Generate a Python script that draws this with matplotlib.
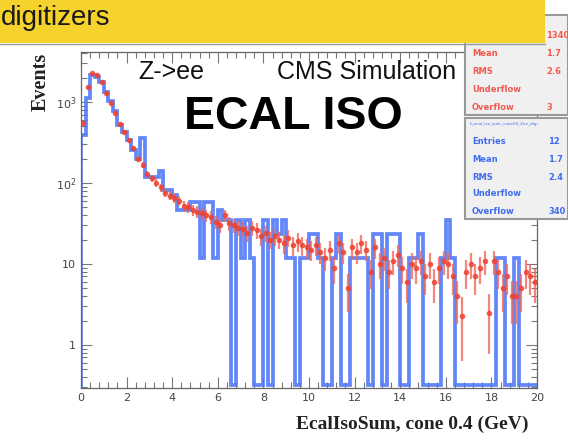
import numpy as np
import matplotlib
matplotlib.use("Agg")
import matplotlib.pyplot as plt
from matplotlib.patches import Rectangle
from matplotlib.ticker import FixedLocator, LogLocator, NullFormatter

# binning: 100 bins of 0.2 GeV from 0 to 20
edges = np.linspace(0, 20, 101)
centers = 0.5 * (edges[:-1] + edges[1:])

# blue histogram: raw counts, each event carries the same weight
blue_weight = 11.7
blue_counts = [33, 96, 184, 175, 150, 115, 88, 66, 45, 36,
               29, 22, 17, 31, 10, 10, 10, 12, 7, 7,
               6, 4, 4, 4, 5, 5, 1, 5, 5, 1,
               4, 3, 3, 0, 3, 1, 3, 1, 0, 0,
               3, 0, 3, 2, 3, 1, 1, 0, 1, 1,
               2, 2, 1, 0, 0, 1, 2, 0, 0, 1,
               1, 1, 1, 0, 2, 2, 0, 2, 2, 2,
               0, 0, 1, 1, 2, 0, 0, 0, 0, 1,
               3, 1, 0, 0, 0, 0, 0, 0, 0, 0,
               0, 1, 1, 0, 0, 1, 0, 0, 0, 0]

# red points (higher statistics sample)
red_weight = 1.2
red_values = [550, 1540, 2250, 2150, 1780, 1300, 960, 730, 530, 420,
              340, 270, 200, 165, 130, 115, 100, 88, 76, 70,
              66, 60, 52, 50, 46, 44, 42, 40, 38, 33,
              30, 40, 32, 30, 28, 27, 24, 28, 26, 22,
              24, 20, 22, 20, 18, 21, 17, 19, 17, 16,
              15, 17, 14, 12, 15, 9, 18, 14, 5, 16,
              14, 18, 15, 8, 16, 10, 12, 8, 11, 13,
              9, 6, 10, 9, 11, 7, 10, 6, 9, 11,
              10, 7, 4, 2.3, 8, 10, 7, 9, 11, 2.5,
              11, 8, 5, 7, 4, 4, 5, 8, 7, 6]

W, H = 568, 441
fig = plt.figure(figsize=(W / 100, H / 100), dpi=100)


def fx(px):
    return px / W


def fy(py):
    return 1 - py / H


ax = fig.add_axes([fx(81), fy(388), fx(537) - fx(81), fy(52) - fy(388)])

blue = np.array(blue_counts, dtype=float) * blue_weight
blue_draw = np.where(blue > 0, blue, 0.32)
ax.stairs(blue_draw, edges, color='#4d76f8', lw=2.7, alpha=0.88, zorder=2)

red = np.array(red_values, dtype=float)
err = np.sqrt(red * red_weight)
err_lo = np.minimum(err, red * 0.97)
ax.errorbar(centers, red, yerr=[err_lo, err], fmt='o', ms=3.0, color='#ee4030',
            mec='#ee4030', ecolor='#f0665a', elinewidth=1.6, capsize=0,
            alpha=0.78, zorder=3)

ax.set_yscale('log')
ax.set_xlim(0, 20)
ax.set_ylim(0.294, 4140)

ax.xaxis.set_major_locator(FixedLocator(np.arange(0, 21, 2)))
ax.xaxis.set_minor_locator(FixedLocator(np.arange(0, 20.01, 0.4)))
ax.yaxis.set_major_locator(FixedLocator([1, 10, 100, 1000]))
ax.yaxis.set_minor_locator(LogLocator(base=10, subs=np.arange(2, 10), numticks=20))
ax.yaxis.set_minor_formatter(NullFormatter())
ax.set_yticklabels(['1', '10', r'$10^{2}$', r'$10^{3}$'])
ax.tick_params(which='both', direction='in', top=True, right=True, color='#777777',
               labelcolor='#444444', labelsize=8, width=0.8)
ax.tick_params(which='major', length=8)
ax.tick_params(which='minor', length=4)
for sp in ax.spines.values():
    sp.set_color('#666666')
    sp.set_linewidth(0.9)

fig.text(fx(528), fy(424), 'EcalIsoSum, cone 0.4 (GeV)', family='Liberation Serif',
         weight='bold', fontsize=14, color='#222222', ha='right', va='center')
fig.text(fx(41), fy(53), 'Events', family='Liberation Serif', weight='bold',
         fontsize=14.5, color='#222222', rotation=90, ha='center', va='top')

# titles inside the plot
fig.text(fx(138), fy(72), 'Z->ee', family='Liberation Sans', fontsize=18,
         color='#111111', ha='left', va='center')
fig.text(fx(277), fy(72), 'CMS Simulation', family='Liberation Sans', fontsize=18,
         color='#111111', ha='left', va='center')
fig.text(fx(293), fy(117), 'ECAL ISO', family='Liberation Sans', weight='bold',
         fontsize=33.5, color='#000000', ha='center', va='center')

# stat boxes
red_box = Rectangle((fx(465), fy(115)), fx(568) - fx(465), fy(15) - fy(115),
                    transform=fig.transFigure, facecolor='#f0f0f0', edgecolor='#999999',
                    lw=1.5, zorder=5)
blue_box = Rectangle((fx(465), fy(219)), fx(568) - fx(465), fy(118) - fy(219),
                     transform=fig.transFigure, facecolor='#f0f0f0', edgecolor='#999999',
                     lw=1.5, zorder=5)
fig.patches.extend([red_box, blue_box])

red_rows = [('Entries', '1340', 35), ('Mean', '1.7', 53), ('RMS', '2.6', 71),
            ('Underflow', '', 89), ('Overflow', '3', 107)]
blue_rows = [('Entries', '12', 142), ('Mean', '1.7', 159), ('RMS', '2.4', 177),
             ('Underflow', '', 194), ('Overflow', '340', 212)]
for name, val, y in red_rows:
    fig.text(fx(472), fy(y), name, fontsize=6, weight='bold', color='#f05a50',
             va='center', zorder=6)
    fig.text(fx(546), fy(y), val, fontsize=6, weight='bold', color='#f05a50',
             va='center', zorder=6)
for name, val, y in blue_rows:
    fig.text(fx(472), fy(y), name, fontsize=6, weight='bold', color='#3f6cf0',
             va='center', zorder=6)
    fig.text(fx(548), fy(y), val, fontsize=6, weight='bold', color='#3f6cf0',
             va='center', zorder=6)
fig.text(fx(470), fy(124), 'h_ecal_iso_sum_cone04_Zee_digi', fontsize=3,
         color='#3f6cf0', va='center', zorder=6)

# yellow slide banner
banner = Rectangle((0, fy(43)), fx(545), 1 - fy(43), transform=fig.transFigure,
                   facecolor='#f6d22c', edgecolor='none', zorder=7)
fig.patches.append(banner)
fig.lines.append(plt.Line2D([0, fx(545)], [fy(44), fy(44)], transform=fig.transFigure,
                            color='#999999', lw=1, zorder=7))
fig.text(fx(1), fy(18), 'digitizers', family='Liberation Sans', fontsize=20,
         color='#1a1a1a', ha='left', va='center', zorder=8)

fig.savefig('out.png', dpi=100)
